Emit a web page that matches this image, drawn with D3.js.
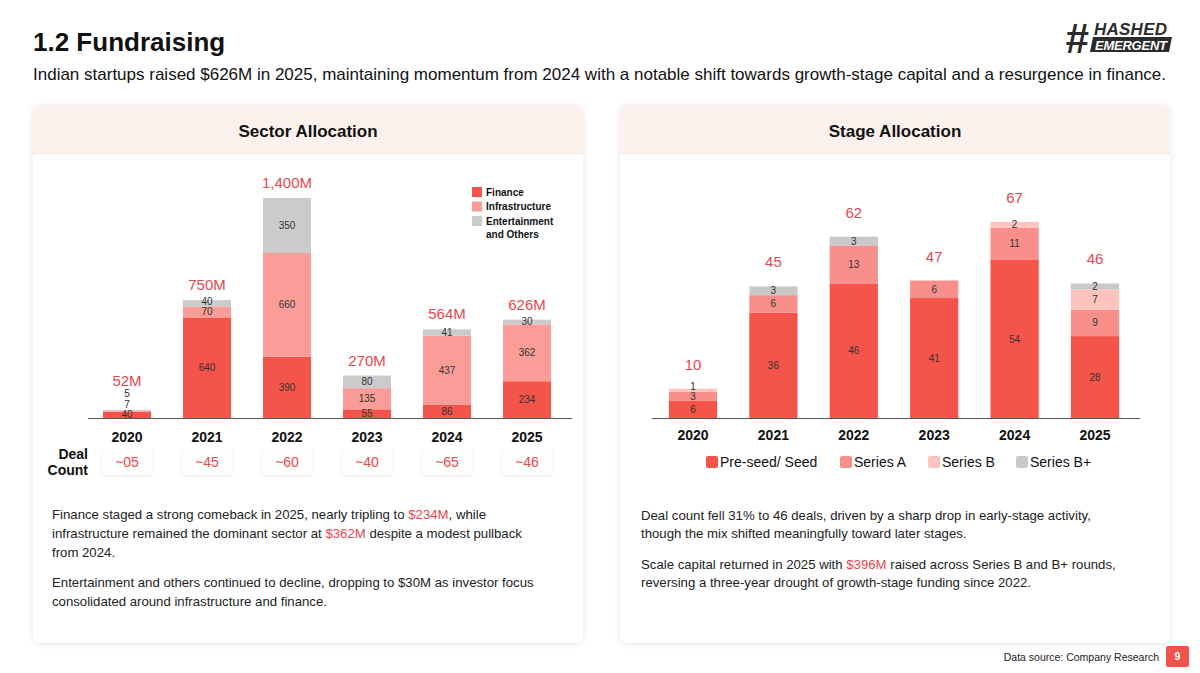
<!DOCTYPE html>
<html>
<head>
<meta charset="utf-8">
<script src="https://cdn.jsdelivr.net/npm/d3@7"></script>
<style>
  html, body { margin: 0; padding: 0; background: #ffffff; }
  svg { display: block; font-family: "Liberation Sans", Arial, Helvetica, sans-serif; }
</style>
</head>
<body>
<svg id="chart" width="1200" height="673"></svg>
<script>
// ---------- DATA ----------
const years = ["2020", "2021", "2022", "2023", "2024", "2025"];

// Sector allocation ($M)
const finance        = [40, 640, 390, 55, 86, 234];
const infrastructure = [7, 70, 660, 135, 437, 362];
const entertainment  = [5, 40, 350, 80, 41, 30];
const sectorTotals   = ["52M", "750M", "1,400M", "270M", "564M", "626M"];
const dealCounts     = ["~05", "~45", "~60", "~40", "~65", "~46"];
const sectorKeys     = ["Finance", "Infrastructure", "Entertainment and Others"];

// Stage allocation (deal counts)
const preSeed     = [6, 36, 46, 41, 54, 28];
const seriesA     = [3, 6, 13, 6, 11, 9];
const seriesB     = [1, 0, 0, 0, 2, 7];
const seriesBPlus = [0, 3, 3, 0, 0, 2];
const stageTotals = [10, 45, 62, 47, 67, 46];
const stageKeys   = ["Pre-seed/ Seed", "Series A", "Series B", "Series B+"];

// ---------- STYLE ----------
const RED_TEXT = "#e5474f";
const sectorColors = ["#f5544a", "#fa9d98", "#cbcbcb"];
const stageColors  = ["#f5544a", "#f98f8a", "#fcc3bf", "#c9c9c9"];

const svg = d3.select("#chart");
const defs = svg.append("defs");
const sh = defs.append("filter").attr("id", "cardShadow")
  .attr("x", "-5%").attr("y", "-5%").attr("width", "110%").attr("height", "110%");
sh.append("feDropShadow").attr("dx", 0).attr("dy", 1).attr("stdDeviation", 3)
  .attr("flood-color", "#000").attr("flood-opacity", 0.10);
const sh2 = defs.append("filter").attr("id", "boxShadow")
  .attr("x", "-30%").attr("y", "-30%").attr("width", "160%").attr("height", "160%");
sh2.append("feDropShadow").attr("dx", 0).attr("dy", 1).attr("stdDeviation", 1.5)
  .attr("flood-color", "#000").attr("flood-opacity", 0.10);

// ---------- HEADER ----------
svg.append("text").attr("x", 33).attr("y", 51)
  .attr("font-size", 26).attr("font-weight", "bold").attr("fill", "#111")
  .text("1.2 Fundraising");
svg.append("text").attr("x", 33).attr("y", 80)
  .attr("font-size", 17).attr("fill", "#111")
  .text("Indian startups raised $626M in 2025, maintaining momentum from 2024 with a notable shift towards growth-stage capital and a resurgence in finance.");

// Logo
const logo = svg.append("g");
logo.append("text").attr("x", 1065).attr("y", 53)
  .attr("font-size", 42).attr("font-weight", "bold").attr("font-style", "italic")
  .attr("fill", "#2b2b2b").text("#");
logo.append("text").attr("x", 1094).attr("y", 35)
  .attr("font-size", 17).attr("font-weight", "bold").attr("font-style", "italic")
  .attr("fill", "#2b2b2b").attr("textLength", 74).attr("letter-spacing", 1).text("HASHED");
logo.append("path").attr("d", "M1093,37 L1172,37 L1169,52 L1090,52 Z").attr("fill", "#2b2b2b");
logo.append("text").attr("x", 1095).attr("y", 50)
  .attr("font-size", 13).attr("font-weight", "bold").attr("font-style", "italic")
  .attr("fill", "#fff").attr("textLength", 72).text("EMERGENT");

// ---------- CARDS ----------
function card(x, title) {
  const g = svg.append("g");
  g.append("rect").attr("x", x).attr("y", 105).attr("width", 550).attr("height", 538)
    .attr("rx", 8).attr("fill", "#fff").attr("filter", "url(#cardShadow)");
  g.append("path")
    .attr("d", `M${x},153 L${x},113 Q${x},105 ${x + 8},105 L${x + 542},105 Q${x + 550},105 ${x + 550},113 L${x + 550},153 Z`)
    .attr("fill", "#fdf1ee");
  g.append("line").attr("x1", x).attr("x2", x + 550).attr("y1", 153.5).attr("y2", 153.5)
    .attr("stroke", "#f6e6e2").attr("stroke-width", 1);
  g.append("text").attr("x", x + 275).attr("y", 137).attr("text-anchor", "middle")
    .attr("font-size", 17).attr("font-weight", "bold").attr("fill", "#111").text(title);
}
card(33, "Sector Allocation");
card(620, "Stage Allocation");

// ---------- SECTOR CHART ----------
const sectorRows = years.map((yr, i) => ({
  year: yr, "Finance": finance[i], "Infrastructure": infrastructure[i],
  "Entertainment and Others": entertainment[i]
}));
const sx = d3.scaleBand().domain(years).range([87, 567]).paddingInner(0.4).paddingOuter(0.2);
const sy = d3.scaleLinear().domain([0, 1400]).range([418, 198]);
const sStack = d3.stack().keys(sectorKeys)(sectorRows);

const gS = svg.append("g");
sStack.forEach((layer, li) => {
  gS.append("g").attr("fill", sectorColors[li]).selectAll("rect").data(layer).join("rect")
    .attr("x", d => sx(d.data.year)).attr("width", sx.bandwidth())
    .attr("y", d => sy(d[1])).attr("height", d => sy(d[0]) - sy(d[1]));
});
// segment labels with simple upward collision avoidance
const sLabelTop = {};
years.forEach(yr => {
  let prev = Infinity;
  sStack.forEach(layer => {
    const d = layer.find(e => e.data.year === yr);
    const v = d[1] - d[0];
    if (v <= 0) return;
    const c = (sy(d[0]) + sy(d[1])) / 2;
    const yy = Math.min(c, prev - 10.5);
    prev = yy;
    gS.append("text").attr("x", sx(yr) + sx.bandwidth() / 2).attr("y", yy)
      .attr("dy", "0.35em").attr("text-anchor", "middle")
      .attr("font-size", 10).attr("fill", "#333").text(v);
  });
  sLabelTop[yr] = prev;
});
// totals
gS.selectAll("text.tot").data(years).join("text").attr("class", "tot")
  .attr("x", d => sx(d) + sx.bandwidth() / 2)
  .attr("y", (d, i) => Math.min(sy(finance[i] + infrastructure[i] + entertainment[i]) - 10, sLabelTop[d] - 8))
  .attr("text-anchor", "middle").attr("font-size", 15).attr("fill", RED_TEXT)
  .text((d, i) => sectorTotals[i]);

// axis
const sAxis = svg.append("g").attr("transform", "translate(0,418)")
  .call(d3.axisBottom(sx).tickSize(0).tickPadding(14));
sAxis.select(".domain").attr("stroke", "#555").attr("d", "M88,0.5H572");
sAxis.selectAll("text").attr("font-size", 14).attr("font-weight", "bold").attr("fill", "#111")
  .attr("font-family", "Liberation Sans, Arial, sans-serif");

// legend
const sLeg = svg.append("g");
const sLegY = [192, 206.5, 221];
sectorKeys.forEach((k, i) => {
  sLeg.append("rect").attr("x", 472).attr("y", sLegY[i] - 5).attr("width", 10).attr("height", 10)
    .attr("fill", sectorColors[i]);
});
sLeg.append("text").attr("x", 486).attr("y", sLegY[0] + 3.5).attr("font-size", 10).attr("font-weight", "bold").attr("fill", "#111").text("Finance");
sLeg.append("text").attr("x", 486).attr("y", sLegY[1] + 3.5).attr("font-size", 10).attr("font-weight", "bold").attr("fill", "#111").text("Infrastructure");
sLeg.append("text").attr("x", 486).attr("y", sLegY[2] + 3.5).attr("font-size", 10).attr("font-weight", "bold").attr("fill", "#111").text("Entertainment");
sLeg.append("text").attr("x", 486).attr("y", sLegY[2] + 16.5).attr("font-size", 10).attr("font-weight", "bold").attr("fill", "#111").text("and Others");

// deal count
svg.append("text").attr("x", 88).attr("y", 459).attr("text-anchor", "end")
  .attr("font-size", 14).attr("font-weight", "bold").attr("fill", "#111").text("Deal");
svg.append("text").attr("x", 88).attr("y", 475).attr("text-anchor", "end")
  .attr("font-size", 14).attr("font-weight", "bold").attr("fill", "#111").text("Count");
const dc = svg.append("g");
dc.selectAll("rect").data(years).join("rect")
  .attr("x", d => sx(d) + sx.bandwidth() / 2 - 25).attr("y", 450).attr("width", 50).attr("height", 25)
  .attr("rx", 4).attr("fill", "#fdfdfd").attr("filter", "url(#boxShadow)");
dc.selectAll("text").data(years).join("text")
  .attr("x", d => sx(d) + sx.bandwidth() / 2).attr("y", 467).attr("text-anchor", "middle")
  .attr("font-size", 14).attr("fill", RED_TEXT).text((d, i) => dealCounts[i]);

// ---------- STAGE CHART ----------
const stageRows = years.map((yr, i) => ({
  year: yr, "Pre-seed/ Seed": preSeed[i], "Series A": seriesA[i],
  "Series B": seriesB[i], "Series B+": seriesBPlus[i]
}));
const tx = d3.scaleBand().domain(years).range([652.8, 1135.2]).paddingInner(0.4).paddingOuter(0.2);
const ty = d3.scaleLinear().domain([0, 67]).range([418, 222]);
const tStack = d3.stack().keys(stageKeys)(stageRows);
const gT = svg.append("g");
tStack.forEach((layer, li) => {
  gT.append("g").attr("fill", stageColors[li]).selectAll("rect").data(layer.filter(d => d[1] > d[0])).join("rect")
    .attr("x", d => tx(d.data.year)).attr("width", tx.bandwidth())
    .attr("y", d => ty(d[1])).attr("height", d => ty(d[0]) - ty(d[1]));
});
years.forEach(yr => {
  let prev = Infinity;
  tStack.forEach(layer => {
    const d = layer.find(e => e.data.year === yr);
    const v = d[1] - d[0];
    if (v <= 0) return;
    const c = (ty(d[0]) + ty(d[1])) / 2;
    const yy = Math.min(c, prev - 10);
    prev = yy;
    gT.append("text").attr("x", tx(yr) + tx.bandwidth() / 2).attr("y", yy)
      .attr("dy", "0.35em").attr("text-anchor", "middle")
      .attr("font-size", 10).attr("fill", "#333").text(v);
  });
});
gT.selectAll("text.tot").data(years).join("text").attr("class", "tot")
  .attr("x", d => tx(d) + tx.bandwidth() / 2)
  .attr("y", (d, i) => ty(stageTotals[i]) - 19)
  .attr("text-anchor", "middle").attr("font-size", 15).attr("fill", RED_TEXT)
  .text((d, i) => stageTotals[i]);
const tAxis = svg.append("g").attr("transform", "translate(0,418)")
  .call(d3.axisBottom(tx).tickSize(0).tickPadding(12));
tAxis.select(".domain").attr("stroke", "#555").attr("d", "M652,0.5H1140");
tAxis.selectAll("text").attr("font-size", 14).attr("font-weight", "bold").attr("fill", "#111")
  .attr("font-family", "Liberation Sans, Arial, sans-serif");

// stage legend
const tLegX = [706, 840, 928, 1016];
const tLeg = svg.append("g");
stageKeys.forEach((k, i) => {
  tLeg.append("rect").attr("x", tLegX[i]).attr("y", 456).attr("width", 12).attr("height", 12)
    .attr("rx", 2).attr("fill", stageColors[i]);
  tLeg.append("text").attr("x", tLegX[i] + 14).attr("y", 467)
    .attr("font-size", 14).attr("fill", "#111").text(k);
});

// ---------- BODY TEXT ----------
function para(x, y, parts) {
  const t = svg.append("text").attr("x", x).attr("y", y).attr("font-size", 13.2).attr("fill", "#222");
  parts.forEach(p => t.append("tspan").attr("fill", p[1] ? RED_TEXT : "#222").text(p[0]));
}
para(52, 519, [["Finance staged a strong comeback in 2025, nearly tripling to "], ["$234M", true], [", while"]]);
para(52, 538, [["infrastructure remained the dominant sector at "], ["$362M", true], [" despite a modest pullback"]]);
para(52, 557, [["from 2024."]]);
para(52, 587, [["Entertainment and others continued to decline, dropping to $30M as investor focus"]]);
para(52, 606, [["consolidated around infrastructure and finance."]]);

para(641, 520, [["Deal count fell 31% to 46 deals, driven by a sharp drop in early-stage activity,"]]);
para(641, 538, [["though the mix shifted meaningfully toward later stages."]]);
para(641, 569, [["Scale capital returned in 2025 with "], ["$396M", true], [" raised across Series B and B+ rounds,"]]);
para(641, 587, [["reversing a three-year drought of growth-stage funding since 2022."]]);

// ---------- FOOTER ----------
svg.append("text").attr("x", 1159).attr("y", 661).attr("text-anchor", "end")
  .attr("font-size", 10.5).attr("fill", "#222").text("Data source: Company Research");
svg.append("rect").attr("x", 1166).attr("y", 646).attr("width", 23).attr("height", 21).attr("rx", 2)
  .attr("fill", "#f0534b");
svg.append("text").attr("x", 1177.5).attr("y", 660).attr("text-anchor", "middle")
  .attr("font-size", 10.5).attr("font-weight", "bold").attr("fill", "#fff").text("9");
</script>
</body>
</html>
